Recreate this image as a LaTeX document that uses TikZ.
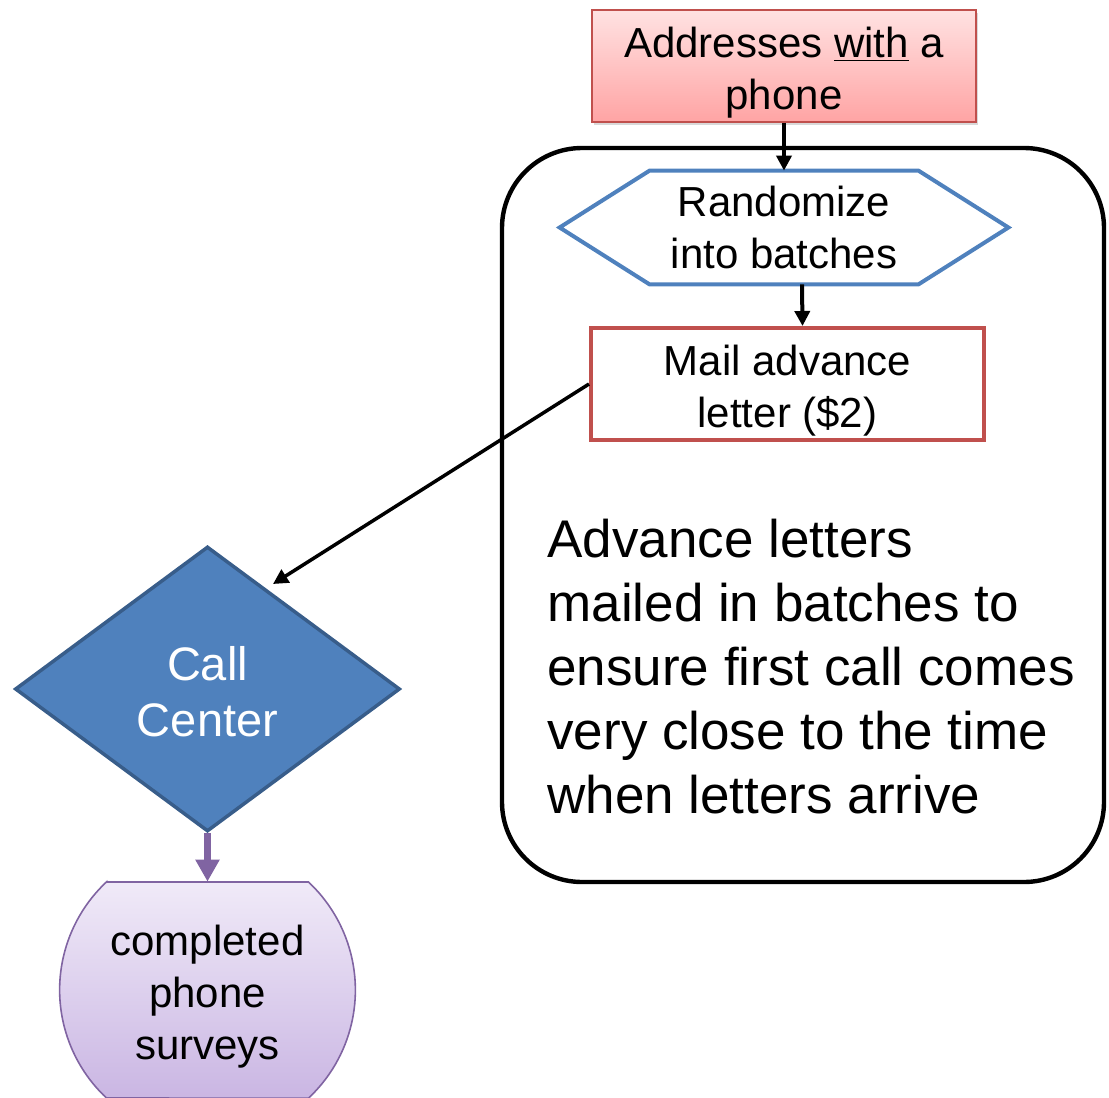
\documentclass[tikz,border=0pt]{standalone}
\usepackage{fontspec}
\setmainfont{Liberation Sans}
\usetikzlibrary{arrows.meta,shapes,shadows,backgrounds,positioning}
\definecolor{accblue}{HTML}{4F81BD}
\definecolor{ccedge}{HTML}{385D8A}
\definecolor{accred}{HTML}{C0504D}
\definecolor{accpurple}{HTML}{8064A2}
\definecolor{addrtop}{HTML}{FFE2E2}
\definecolor{addrbot}{HTML}{FFA4A4}
\definecolor{donetop}{HTML}{F0EAF8}
\definecolor{donebot}{HTML}{CAB6E3}
\newcommand{\lift}{\rule{0pt}{22pt}}

\begin{document}
\begin{tikzpicture}[x=0.5pt,y=0.5pt,>={Triangle[width=7.5pt,length=7.5pt]},
        flow/.style={->,line width=2pt},
        txt/.style={align=center,inner sep=0,font=\fontsize{21}{26}\selectfont},
        redbox/.style={txt,rectangle,minimum height=56pt,draw=accred,line width=2pt}]
        \useasboundingbox (0,0) rectangle (1109,-1098);
        \node[redbox,minimum width=192pt,line width=0.8pt,top color=addrtop,bottom color=addrbot,
              drop shadow={opacity=0.3,shadow xshift=1pt,shadow yshift=-1.5pt}] (addr) at (784,-66) {\lift Addresses \underline{with} a\\phone};
        \node[draw,line width=2.2pt,rounded corners=40pt,minimum width=301pt,minimum height=367pt] (grp) at (803,-515) {};
        \node[txt,minimum width=224pt,minimum height=56.5pt] (batch) at (784,-227.5) {Randomize\\into batches};
        \draw[accblue,line width=2pt] (batch.west) -- ([xshift=45pt]batch.north west) -- ([xshift=-45pt]batch.north east)
          -- (batch.east) -- ([xshift=-45pt]batch.south east) -- ([xshift=45pt]batch.south west) -- cycle;
        \node[redbox,minimum width=196.5pt,fill=white] (mail) at (787.5,-384) {\lift Mail advance\\letter (\$2)};
        \node[anchor=north west,inner sep=0,align=left,font=\fontsize{26.5}{32}\selectfont] (note) at (547,-519)
          {Advance letters\\mailed in batches to\\ensure first call comes\\very close to the time\\when letters arrive};
        \node[diamond,draw=ccedge,line width=1.75pt,fill=accblue,minimum width=192.5pt,minimum height=142.5pt,inner sep=0,
              align=center,text=white,font=\fontsize{23.5}{28}\selectfont] (cc) at (207.5,-689) {\rule{0pt}{20pt}Call\\Center};
        \coordinate (ccin) at (273,-584);
        \node[txt,minimum width=147.5pt,minimum height=108pt] (done) at (207.5,-990) {\lift completed\\phone\\surveys};
        \begin{scope}[on background layer]
          \path[draw=accpurple,line width=0.8pt,top color=donetop,bottom color=donebot]
            ([shift={(-101,108)}]done.center) -- ([shift={(101,108)}]done.center)
            arc[start angle=46.9,end angle=-46.9,radius=74pt]
            -- ([shift={(-101,-108)}]done.center)
            arc[start angle=226.9,end angle=133.1,radius=74pt] -- cycle;
        \end{scope}
        \path[flow]
          (addr) edge (batch)
          ([xshift=9pt]batch.south) edge ([xshift=7.5pt]mail.north)
          (mail.west) edge[line width=1.75pt] (ccin)
          (cc.south) edge[accpurple,line width=3.75pt,-{Triangle[width=11.5pt,length=11pt]}] (done.north)
          ;
\end{tikzpicture}
\end{document}
